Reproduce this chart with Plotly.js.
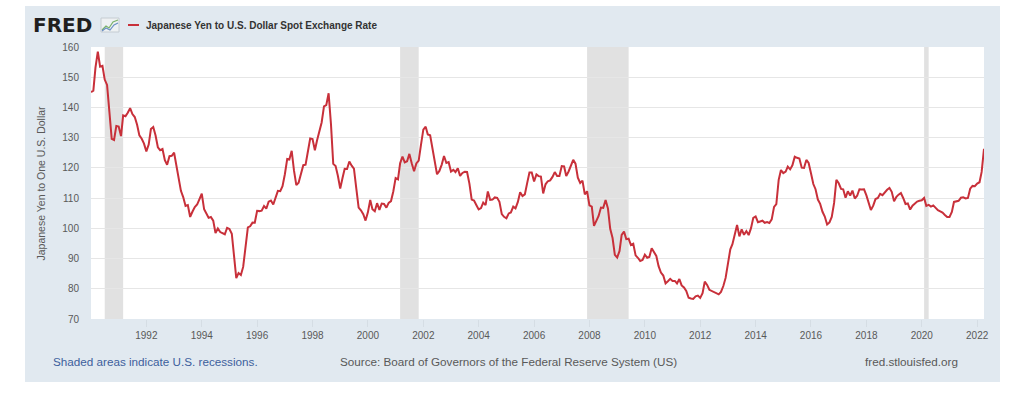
<!DOCTYPE html>
<html>
<head>
<meta charset="utf-8">
<script src="https://cdn.plot.ly/plotly-3.0.1.min.js"></script>
<style>
  html, body { margin: 0; padding: 0; background: #ffffff; width: 1024px; height: 393px; overflow: hidden; }
  #chart { position: absolute; left: 25px; top: 6px; width: 975px; height: 376px; }
</style>
</head>
<body>
<div id="chart"></div>
<script>
// Monthly averages, Japanese Yen per U.S. Dollar, starting January of each block's first year
const startDate = "1990-01-01";
const values1990s = [
  145.09,145.54,153.19,158.50,153.52,153.78,149.23,147.46,138.44,129.59,129.22,133.89,
  133.70,130.54,137.39,137.11,138.22,139.75,137.83,136.82,134.30,130.77,129.63,128.04,
  125.46,127.70,132.86,133.54,130.78,126.82,125.85,126.23,122.56,121.04,123.87,123.98,
  125.02,120.97,117.02,112.41,110.34,107.41,107.69,103.77,105.57,107.02,107.88,109.91,
  111.44,106.30,105.10,103.48,103.75,102.53,98.45,99.94,98.77,98.35,98.04,100.18,
  99.79,98.23,90.77,83.53,85.21,84.54,87.24,94.56,100.31,100.68,101.89,101.86,
  105.81,105.70,105.85,107.40,106.49,108.82,109.19,107.87,109.93,112.41,112.30,113.98,
  117.91,122.96,122.77,125.64,119.15,114.31,115.10,117.93,120.89,121.06,125.38,129.73,
  129.55,125.85,129.08,131.74,135.04,140.33,140.76,144.68,134.50,121.33,120.61,117.40,
  113.14,116.73,119.71,119.66,122.12,120.72,119.73,113.24,106.88,105.97,104.65,102.58
];
const values2000s = [
  105.30,109.39,106.31,105.63,108.32,106.13,108.21,108.08,106.84,108.44,109.01,112.21,
  116.67,116.23,121.51,123.77,121.83,122.19,124.63,121.53,118.91,121.48,122.42,127.59,
  132.68,133.64,131.06,130.77,126.38,123.29,117.88,118.99,121.08,123.92,121.61,121.89,
  118.81,119.34,118.63,119.90,117.37,118.33,118.70,118.66,114.80,109.50,109.18,107.74,
  106.27,106.71,108.52,107.66,112.20,109.43,109.49,110.23,110.09,108.78,104.70,103.81,
  103.34,104.94,105.25,107.19,106.60,108.75,111.95,110.66,111.24,114.87,118.45,118.46,
  115.48,117.86,117.28,117.13,111.53,114.57,115.59,115.86,117.02,118.61,117.33,117.32,
  120.59,120.49,117.29,118.81,120.77,122.69,121.40,116.75,115.01,115.77,111.24,112.28,
  107.60,107.18,100.83,102.41,104.11,106.86,106.76,109.35,106.61,99.85,96.79,91.21,
  90.35,92.53,97.83,98.92,96.43,96.58,94.49,94.90,91.06,90.26,89.21,89.51
];
const values2010s = [
  91.26,90.28,90.52,93.38,91.87,90.85,87.50,85.38,84.38,81.80,82.52,83.29,
  82.57,82.59,81.77,83.22,81.12,80.42,79.27,77.03,76.81,76.66,77.49,77.75,
  76.98,78.51,82.38,81.27,79.67,79.32,78.96,78.68,78.16,78.97,80.92,83.60,
  89.15,93.07,94.73,97.76,101.08,97.33,99.66,97.85,99.09,97.77,100.05,103.46,
  103.94,102.04,102.35,102.51,101.84,102.07,101.76,102.96,107.09,108.02,116.06,119.29,
  118.26,118.76,120.39,119.51,120.84,123.70,123.33,123.11,120.07,119.99,122.63,121.61,
  118.24,114.66,112.95,109.53,108.08,105.47,103.92,101.27,101.94,103.76,108.42,116.08,
  114.92,113.06,112.90,110.12,112.24,110.87,112.48,109.87,110.78,112.92,112.82,112.88,
  110.88,107.85,106.06,107.51,109.68,110.04,111.44,110.99,111.96,112.77,113.36,112.07,
  108.96,110.43,111.14,111.67,110.04,108.06,108.24,106.20,107.50,108.15,108.87,109.12
];
const values2020s = [
  109.28,110.04,107.45,107.79,107.19,107.58,106.71,106.02,105.63,105.21,104.44,103.74,
  103.78,105.39,108.74,109.03,109.11,110.11,110.25,109.88,110.08,113.12,114.04,113.95,
  114.82,115.25,118.66,126.31
];
const recessionStarts = ["1990-07-01", "2001-03-01", "2007-12-01", "2020-02-01"];
const recessionEnds   = ["1991-03-01", "2001-11-01", "2009-06-01", "2020-04-01"];
const tickYears = [1992,1994,1996,1998,2000,2002,2004,2006,2008,2010,2012,2014,2016,2018,2020,2022];

const seriesTitle = "Japanese Yen to U.S. Dollar Spot Exchange Rate";
const yTitle = "Japanese Yen to One U.S. Dollar";
const noteText = "Shaded areas indicate U.S. recessions.";
const sourceText = "Source: Board of Governors of the Federal Reserve System (US)";
const siteText = "fred.stlouisfed.org";

// build monthly dates
const values = values1990s.concat(values2000s, values2010s, values2020s);
const y0 = parseInt(startDate.slice(0,4), 10);
const dates = values.map((v, i) => {
  const yr = y0 + Math.floor(i / 12);
  const mo = (i % 12) + 1;
  return yr + "-" + String(mo).padStart(2, "0") + "-01";
});

// page pixel -> paper coords helpers (div at left 25, top 6; margins l66 r16 t41 b63)
const W = 975, H = 376, ML = 66, MR = 16, MT = 41, MB = 63;
const PW = W - ML - MR, PH = H - MT - MB;
const X = px => (px - 25 - ML) / PW;
const Y = py => 1 - (py - 6 - MT) / PH;

const FONT = "Liberation Sans, Arial, sans-serif";
const shapes = recessionStarts.map((s, i) => ({
  type: "rect", xref: "x", yref: "paper", x0: s, x1: recessionEnds[i], y0: 0, y1: 1,
  fillcolor: "#e1e1e1", line: { width: 0 }, layer: "below"
}));
// legend line
shapes.push({ type: "line", xref: "paper", yref: "paper", x0: X(128), x1: X(139), y0: Y(25), y1: Y(25),
  line: { color: "#c8303a", width: 2 } });
// little logo icon
shapes.push({ type: "rect", xref: "paper", yref: "paper", x0: X(101), x1: X(119), y0: Y(32), y1: Y(18),
  fillcolor: "#eef1f3", line: { color: "#c5ccd2", width: 1 } });
shapes.push({ type: "path", xref: "paper", yref: "paper",
  path: `M ${X(102)} ${Y(30)} L ${X(106)} ${Y(26)} L ${X(109)} ${Y(28)} L ${X(113)} ${Y(22)} L ${X(118)} ${Y(20)}`,
  line: { color: "#7ab26a", width: 1.2 } });
shapes.push({ type: "path", xref: "paper", yref: "paper",
  path: `M ${X(102)} ${Y(31)} L ${X(106)} ${Y(28)} L ${X(110)} ${Y(30)} L ${X(114)} ${Y(25)} L ${X(118)} ${Y(23)}`,
  line: { color: "#6b8fc4", width: 1.2 } });

const annotations = [
  { text: "<b>FRED</b>", x: X(31), y: Y(25), xref: "paper", yref: "paper", xanchor: "left", yanchor: "middle",
    showarrow: false, font: { family: "DejaVu Sans, " + FONT, size: 20, color: "#1f1f1f" } },
  { text: "<b>" + seriesTitle + "</b>", x: X(144), y: Y(25), xref: "paper", yref: "paper", xanchor: "left", yanchor: "middle",
    showarrow: false, font: { family: FONT, size: 10, color: "#333333" } },
  { text: yTitle, x: X(40.5), y: Y(183), xref: "paper", yref: "paper", xanchor: "center", yanchor: "middle",
    textangle: -90, showarrow: false, font: { family: FONT, size: 10.5, color: "#595959" } },
  { text: noteText, x: X(51), y: Y(361), xref: "paper", yref: "paper", xanchor: "left", yanchor: "middle",
    showarrow: false, font: { family: FONT, size: 11.7, color: "#3d5f9d" } },
  { text: sourceText, x: X(338), y: Y(361), xref: "paper", yref: "paper", xanchor: "left", yanchor: "middle",
    showarrow: false, font: { family: FONT, size: 11.7, color: "#595959" } },
  { text: siteText, x: X(960), y: Y(361), xref: "paper", yref: "paper", xanchor: "right", yanchor: "middle",
    showarrow: false, font: { family: FONT, size: 11.7, color: "#595959" } }
];

const trace = {
  x: dates, y: values, type: "scatter", mode: "lines",
  line: { color: "#c8303a", width: 2 }, hoverinfo: "x+y"
};

const layout = {
  width: W, height: H,
  margin: { l: ML, r: MR, t: MT, b: MB, pad: 0 },
  paper_bgcolor: "#e1e9f0", plot_bgcolor: "#ffffff",
  showlegend: false,
  font: { family: FONT, size: 10, color: "#595959" },
  xaxis: {
    type: "date", range: ["1990-01-01", "2022-04-01"],
    tickvals: tickYears.map(y => y + "-01-01"), ticktext: tickYears.map(String),
    showgrid: false, zeroline: false, showline: false,
    ticks: "outside", ticklen: 7, tickcolor: "#d5dde4", tickwidth: 1,
    tickfont: { family: FONT, size: 10, color: "#595959" }
  },
  yaxis: {
    range: [70, 160], tickvals: [70,80,90,100,110,120,130,140,150,160],
    showgrid: true, gridcolor: "#e6e6e6", gridwidth: 1, zeroline: false, showline: false,
    ticks: "", ticklabelstandoff: 11,
    tickfont: { family: FONT, size: 10, color: "#595959" }
  },
  shapes: shapes,
  annotations: annotations
};

Plotly.newPlot("chart", [trace], layout, { displayModeBar: false, staticPlot: true });
</script>
</body>
</html>
